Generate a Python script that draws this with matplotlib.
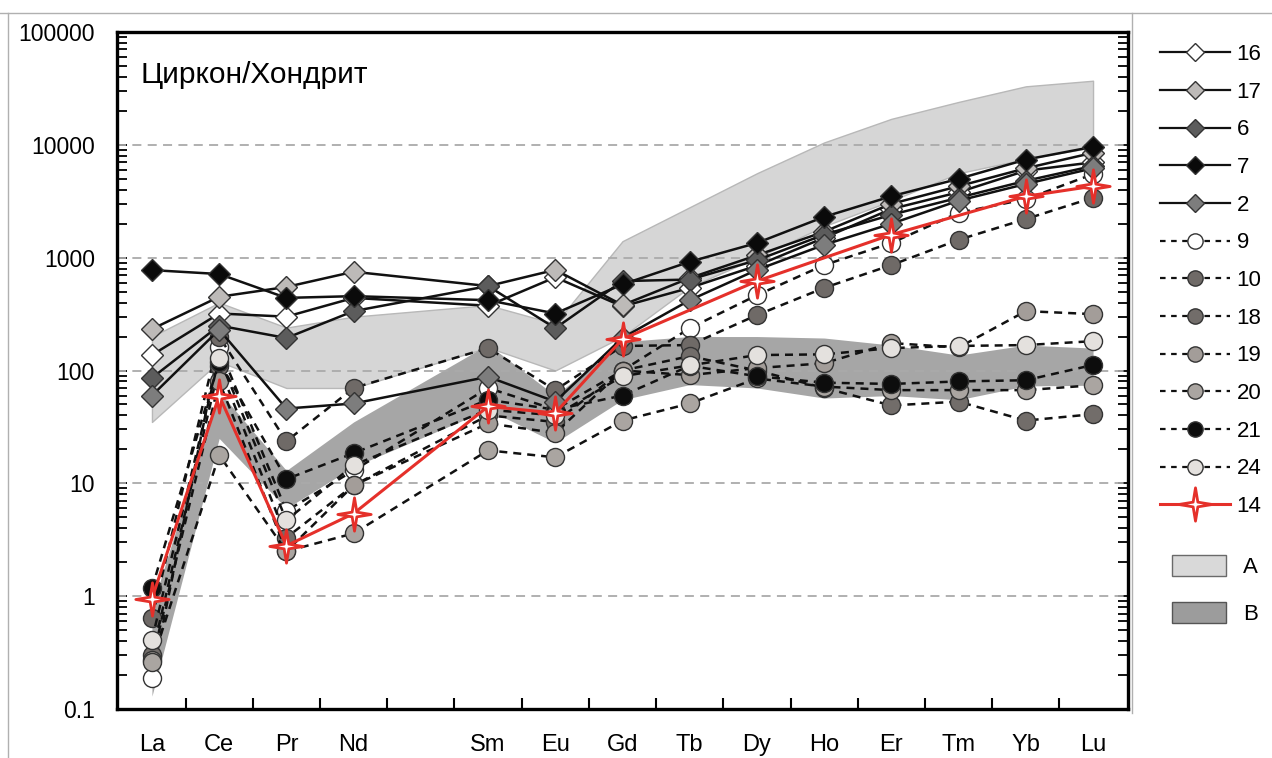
import numpy as np
import matplotlib.pyplot as plt
from matplotlib.path import Path
from matplotlib.lines import Line2D
from matplotlib.patches import Patch

plt.rcParams['font.family'] = ['Liberation Sans', 'DejaVu Sans']

# REE, Pm skipped
elements = ['La', 'Ce', 'Pr', 'Nd', 'Sm', 'Eu', 'Gd', 'Tb', 'Dy', 'Ho', 'Er', 'Tm', 'Yb', 'Lu']
xpos = [0, 1, 2, 3, 5, 6, 7, 8, 9, 10, 11, 12, 13, 14]

# field A (light) and B (dark): lower / upper bounds
field_a_lo = [35, 120, 70, 70, 160, 100, 200, 550, 1000, 1900, 3200, 5600, 7500, 9500]
field_a_hi = [200, 400, 240, 300, 380, 260, 1400, 2800, 5600, 10500, 17000, 24000, 33000, 37000]
field_b_lo = [0.13, 25, 6, 14, 45, 23, 55, 75, 70, 57, 60, 55, 73, 74]
field_b_hi = [0.8, 65, 13, 35, 170, 60, 180, 200, 200, 194, 168, 137, 168, 158]

# solid lines, diamonds
s16 = [137, 320, 300, 440, 375, 670, 370, 540, 850, 1500, 2700, 3800, 5900, 7000]
s17 = [233, 450, 550, 750, 560, 780, 380, 660, 1050, 1700, 3000, 4300, 6200, 8500]
s6 = [86, 250, 194, 336, 560, 237, 620, 640, 950, 1600, 2400, 3400, 4800, 6500]
s7 = [776, 716, 440, 456, 420, 320, 580, 920, 1350, 2300, 3500, 5000, 7400, 9600]
s2 = [60, 230, 46, 51, 88, 53, 195, 420, 780, 1300, 2000, 3200, 4500, 6200]

# dashed lines, circles
s9 = [0.19, 160, 5.7, 13, 70, 45, 100, 237, 465, 860, 1350, 2500, 3300, 5500]
s10 = [0.64, 200, 23.6, 70, 158, 67, 165, 168, 310, 540, 860, 1440, 2200, 3400]
s18 = [0.30, 109, 3.3, 9.6, 40, 35, 100, 134, 100, 70, 49, 53, 36, 41]
s19 = [0.27, 80, 2.5, 9.6, 34, 28, 100, 91, 105, 116, 175, 160, 336, 316]
s20 = [0.26, 17.8, 2.5, 3.6, 19.6, 17, 36, 51, 85, 72, 67, 67, 67, 74]
s21 = [1.17, 120, 10.9, 18.5, 55, 45, 60, 110, 89, 78, 76, 80, 82, 112]
s24 = [0.41, 130, 4.7, 14.5, 45, 40, 89, 111, 137, 139, 158, 165, 168, 182]

# red star sample, no data for Tb, Ho, Tm
s14 = [0.95, 60, 2.8, 5.4, 48, 42, 190, np.nan, 620, np.nan, 1600, np.nan, 3500, 4300]

yticks = [0.1, 1, 10, 100, 1000, 10000, 100000]
ytick_labels = ['0.1', '1', '10', '100', '1000', '10000', '100000']

solid = [('16', s16, '#ffffff'), ('17', s17, '#bdbab8'), ('6', s6, '#5c5c5c'),
         ('7', s7, '#0a0a0a'), ('2', s2, '#7d7d7d')]
dashed = [('9', s9, '#ffffff'), ('10', s10, '#6f6a67'), ('18', s18, '#726d6a'),
          ('19', s19, '#a39d99'), ('20', s20, '#aaa5a1'), ('21', s21, '#0d0d0d'),
          ('24', s24, '#e4e1de')]

# four-point star marker
ang = np.pi / 2 + np.arange(8) * np.pi / 4
rad = np.where(np.arange(8) % 2 == 0, 1.0, 0.2)
verts = list(zip(rad * np.cos(ang), rad * np.sin(ang)))
star = Path(verts + [verts[0]], [Path.MOVETO] + [Path.LINETO] * 7 + [Path.CLOSEPOLY])

dash_ls = (0, (3.2, 2.4))

fig = plt.figure(figsize=(12.72, 7.58), dpi=100)
ax = fig.add_axes([117 / 1272, 1 - 709 / 758, (1128 - 117) / 1272, (709 - 32) / 758])

x = np.array(xpos)
ax.fill_between(x, field_a_lo, field_a_hi, color='#d6d6d6', lw=1, edgecolor='#b8b8b8', zorder=1)
ax.fill_between(x, field_b_lo, field_b_hi, color='#a6a6a6', lw=0, zorder=1.5)

for v in [1, 10, 100, 1000, 10000]:
    ax.axhline(v, color='#aaaaaa', lw=1.3, ls=(0, (5, 3.5)), zorder=2)

for name, vals, col in dashed:
    ax.plot(x, vals, color='#111111', lw=1.8, ls=dash_ls, marker='o', ms=13,
            mfc=col, mec='#333333', mew=1, zorder=3)

for name, vals, col in solid:
    ax.plot(x, vals, color='#111111', lw=1.8, ls='-', marker='D', ms=11,
            mfc=col, mec='#333333', mew=1, zorder=4)

v14 = np.array(s14, dtype=float)
m = ~np.isnan(v14)
ax.plot(x[m], v14[m], color='#e5302a', lw=2.2, marker=star, ms=24,
        mfc='white', mec='#e5302a', mew=2, zorder=5)

ax.set_yscale('log')
ax.set_ylim(0.1, 100000)
ax.set_xlim(-0.52, 14.52)
ax.set_yticks(yticks)
ax.set_yticklabels(ytick_labels)
ax.yaxis.set_minor_formatter(plt.NullFormatter())
ax.tick_params(axis='y', which='both', direction='in', left=True, right=True,
               length=7, width=1.3, labelsize=16.5, pad=16)

ax.set_xticks(xpos)
ax.set_xticklabels(elements)
ax.set_xticks(np.arange(0.5, 14, 1), minor=True)
ax.tick_params(axis='x', which='major', length=0, labelsize=17, pad=18)
ax.tick_params(axis='x', which='minor', direction='in', length=8, width=1.5)

for sp in ax.spines.values():
    sp.set_linewidth(2.4)

ax.text(0.023, 0.936, 'Циркон/Хондрит', transform=ax.transAxes, fontsize=21.5,
        va='center', ha='left')

# legend
handles = []
for name, vals, col in solid:
    handles.append(Line2D([], [], color='#111111', lw=1.6, marker='D', ms=9,
                          mfc=col, mec='#333333', label=name))
for name, vals, col in dashed:
    handles.append(Line2D([], [], color='#111111', lw=1.6, ls=(0, (2.5, 2.5)), marker='o', ms=11,
                          mfc=col, mec='#333333', label=name))
handles.append(Line2D([], [], color='#e5302a', lw=2.2, marker=star, ms=24,
                      mfc='white', mec='#e5302a', mew=2, label='14'))
fig.legend(handles=handles, loc='upper left', bbox_to_anchor=(1160 / 1272, 1 - 44 / 758),
           frameon=False, fontsize=16, labelspacing=0.75, handlelength=3.15,
           handletextpad=0.3, borderaxespad=0, borderpad=0)

patches = [Patch(facecolor='#d9d9d9', edgecolor='#6a6a6a', label='A'),
           Patch(facecolor='#9c9c9c', edgecolor='#555555', label='B')]
fig.legend(handles=patches, loc='upper left', bbox_to_anchor=(1172 / 1272, 1 - 555 / 758),
           frameon=False, fontsize=16, labelspacing=1.06, handlelength=2.43, handleheight=1.1,
           handletextpad=0.77, borderaxespad=0, borderpad=0)

# outer frame of the figure panel
fig.add_artist(Line2D([0, 1], [1 - 13 / 758] * 2, transform=fig.transFigure, color='#b0b0b0', lw=1))
fig.add_artist(Line2D([8 / 1272] * 2, [0, 1 - 13 / 758], transform=fig.transFigure, color='#b0b0b0', lw=1))
fig.add_artist(Line2D([1132 / 1272] * 2, [1 - 713 / 758, 1 - 13 / 758], transform=fig.transFigure,
                      color='#b0b0b0', lw=1))

fig.savefig('out.png', dpi=100)
